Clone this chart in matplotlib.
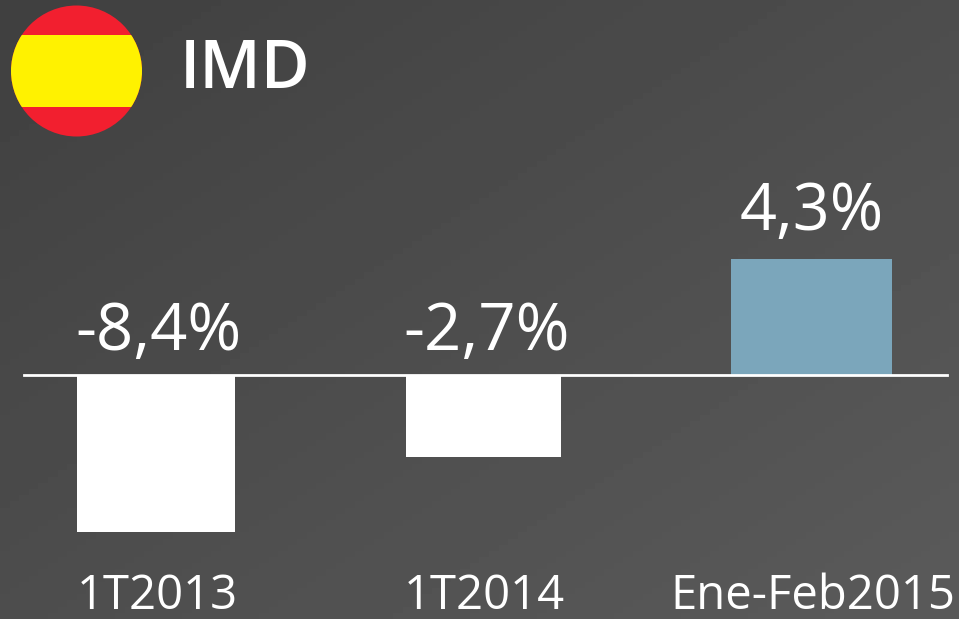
import numpy as np
import matplotlib
matplotlib.use("Agg")
import matplotlib.pyplot as plt
from matplotlib.patches import Circle, Rectangle

categories = ["1T2013", "1T2014", "Ene-Feb2015"]
labels = ["-8,4%", "-2,7%", "4,3%"]
# drawn heights, the bars are not to scale with the labels
heights = [-157, -82, 116]
lefts = [77, 406, 731]
widths = [158, 155, 161]
colors = ["white", "white", "#7ba6bb"]

W, H = 959, 619
ZERO = 375
plt.rcParams["font.family"] = ["Open Sans", "DejaVu Sans"]

fig = plt.figure(figsize=(W / 100, H / 100), dpi=100)
ax = fig.add_axes([0, 0, 1, 1])
# y is bar height, zero line sits 375 px from the top
ymin, ymax = ZERO - H, ZERO
ax.axis("off")

# background gradient, dark top left to lighter bottom right
yy, xx = np.mgrid[1:0:100j, 0:1:100j]
grad = 0.25 + 0.105 * (0.5 * xx + 0.5 * yy)
ax.imshow(grad, extent=[0, W, ymin, ymax], origin="lower", cmap="gray", vmin=0, vmax=1, aspect="auto", zorder=0)

# flag
flag = Circle((76.5, ZERO - 71), 65.5, transform=ax.transData, fc="none", ec="none")
ax.add_patch(flag)
red = Rectangle((0, ZERO - 140), 160, 140, fc="#f21f2f", ec="none", zorder=1)
yellow = Rectangle((0, ZERO - 107), 160, 72, fc="#fff200", ec="none", zorder=2)
ax.add_patch(red)
ax.add_patch(yellow)
red.set_clip_path(flag)
yellow.set_clip_path(flag)

ax.text(180, ZERO - 70, "IMD", color="white", fontsize=48, va="center", ha="left", fontweight="semibold")

for left, w, h, col, lab, cat in zip(lefts, widths, heights, colors, labels, categories):
    cx = left + w / 2
    ax.bar(cx, h, width=w, color=col, zorder=2)
    # labels sit above the bar or above the zero line
    if h < 0:
        ax.text(cx + 3, 42, lab, color="white", fontsize=47, ha="center", va="center", zorder=3)
    else:
        ax.text(cx, h + 46, lab, color="white", fontsize=46.5, ha="center", va="center", zorder=3)
    ax.text(cx + 1, ZERO - 596.5, cat, color="white", fontsize=34, ha="center", va="center")

ax.plot([24, 947], [0, 0], color="white", lw=2, zorder=4)

ax.set_xlim(0, W)
ax.set_ylim(ymin, ymax)

fig.savefig("out.png", dpi=100)
